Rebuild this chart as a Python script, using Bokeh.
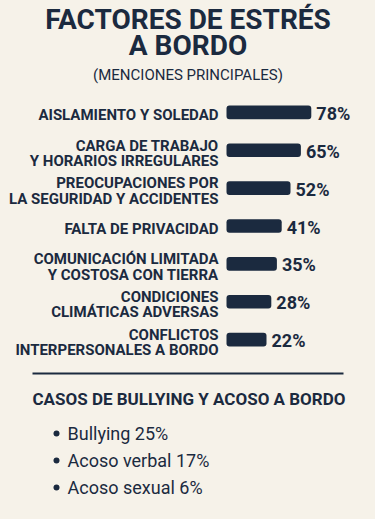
from bokeh.plotting import figure
from bokeh.layouts import column
from bokeh.models import Range1d, FactorRange, ColumnDataSource
from bokeh.core.properties import value
from bokeh.embed import file_html
from bokeh.resources import INLINE

# ---- data ----
categories = [
    "AISLAMIENTO Y SOLEDAD",
    "CARGA DE TRABAJO\nY HORARIOS IRREGULARES",
    "PREOCUPACIONES POR\nLA SEGURIDAD Y ACCIDENTES",
    "FALTA DE PRIVACIDAD",
    "COMUNICACIÓN LIMITADA\nY COSTOSA CON TIERRA",
    "CONDICIONES\nCLIMÁTICAS ADVERSAS",
    "CONFLICTOS\nINTERPERSONALES A BORDO",
]
mentions = [78, 65, 52, 41, 35, 28, 22]

cases_labels = ["Bullying", "Acoso verbal", "Acoso sexual"]
cases_values = [25, 17, 6]

title_lines = ["FACTORES DE ESTRÉS", "A BORDO"]
subtitle = "(MENCIONES PRINCIPALES)"
cases_title = "CASOS DE BULLYING Y ACOSO A BORDO"

# ---- style ----
BG = "#f6f2e9"
NAVY = "#1b2a3f"
FONT = "Roboto"
W = 375
H_TOP, H_MID, H_BOT = 93, 265, 161
BASE = -28  # bar baseline in value units

def base_fig(h, xr, yr):
    f = figure(width=W, height=h, x_range=xr, y_range=yr,
               output_backend="svg", toolbar_location=None,
               min_border=0, min_border_left=0, min_border_right=0,
               min_border_top=0, min_border_bottom=0)
    f.axis.visible = False
    f.xgrid.visible = False
    f.ygrid.visible = False
    f.outline_line_color = None
    f.background_fill_color = BG
    f.border_fill_color = BG
    return f

# ---- top: title ----
top = base_fig(H_TOP, Range1d(0, W), Range1d(H_TOP, 0))
top.text(x=[W / 2, W / 2], y=[19, 45], text=title_lines,
         text_font=value(FONT), text_font_style="bold", text_font_size="28px",
         text_color=NAVY, text_align="center", text_baseline="middle")
top.text(x=[W / 2], y=[74], text=[subtitle],
         text_font=value(FONT), text_font_size="15px",
         text_color=NAVY, text_align="center", text_baseline="middle")

# ---- middle: bars ----
# x scale: 0.8 px per unit, baseline at px 226
scale = 0.8
x0 = BASE - 226 / scale
x1 = x0 + W / scale
factors = list(reversed(categories))
mid = base_fig(H_MID, Range1d(x0, x1), FactorRange(*factors, range_padding=0))
src = ColumnDataSource(dict(cat=categories, val=mentions,
                            base=[BASE] * len(mentions),
                            pct=[f"{v}%" for v in mentions]))
mid.hbar(y="cat", left="base", right="val", height=0.36, source=src,
         fill_color=NAVY, line_color=None, border_radius=3)
mid.text(x="base", y="cat", text="cat", source=src, x_offset=-8, y_offset=3,
         text_font=value(FONT), text_font_style="bold", text_font_size="15px",
         text_color=NAVY, text_align="right", text_baseline="middle",
         text_line_height=0.85)
mid.text(x="val", y="cat", text="pct", source=src, x_offset=5, y_offset=1,
         text_font=value(FONT), text_font_style="bold", text_font_size="18px",
         text_color=NAVY, text_align="left", text_baseline="middle")

# ---- bottom: bullying cases ----
bot = base_fig(H_BOT, Range1d(0, W), Range1d(H_BOT, 0))
bot.segment(x0=[32], y0=[15], x1=[343], y1=[15], line_color=NAVY, line_width=2)
bot.text(x=[32], y=[40], text=[cases_title],
         text_font=value(FONT), text_font_style="bold", text_font_size="17px",
         text_color=NAVY, text_align="left", text_baseline="middle")
bsrc = ColumnDataSource(dict(
    y=[75 + 27 * i for i in range(len(cases_labels))],
    bx=[56] * len(cases_labels),
    tx=[67] * len(cases_labels),
    t=[f"{l} {v}%" for l, v in zip(cases_labels, cases_values)]))
bot.scatter(x="bx", y="y", source=bsrc, size=6, fill_color=NAVY, line_color=None)
bot.text(x="tx", y="y", text="t", source=bsrc,
         text_font=value(FONT), text_font_size="18px", text_color=NAVY,
         text_align="left", text_baseline="middle")

p = column(top, mid, bot, spacing=0)
p.styles = {"background-color": BG}
open("out.html", "w").write(file_html(p, INLINE))
